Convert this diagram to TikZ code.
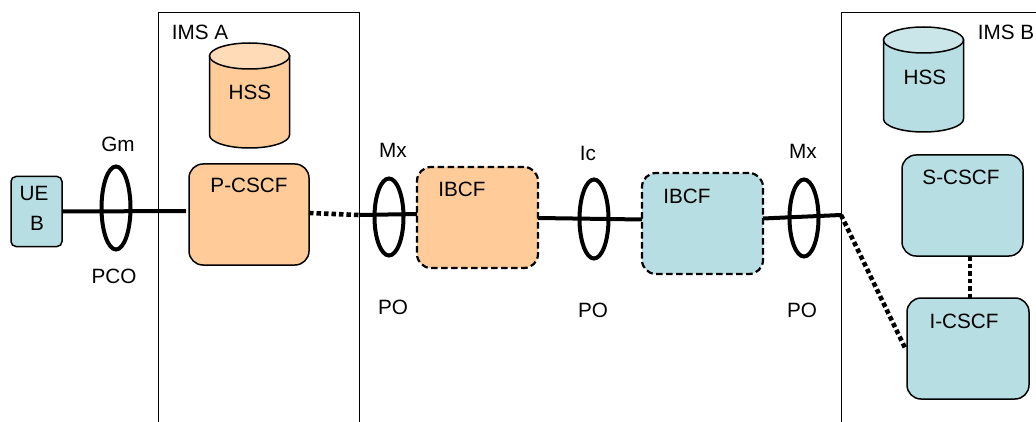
\documentclass[tikz,border=0pt]{standalone}
\usepackage{fontspec}
\setmainfont{Liberation Sans}
\usetikzlibrary{shapes.geometric}
\definecolor{org}{HTML}{FFCC99}
\definecolor{orgtop}{HTML}{FFDBB8}
\definecolor{blu}{HTML}{B7DFE3}
\definecolor{blutop}{HTML}{CBE6E9}
\tikzset{
  x=1pt,y=-1pt,
  box/.style={draw=black,line width=1.5pt,rounded corners=#1,inner sep=0pt},
  box/.default=14pt,
  dashbox/.style={draw=black,line width=2.2pt,rounded corners=14pt,inner sep=0pt,dash pattern=on 6.5pt off 3.5pt},
  txt/.style={inner sep=0pt,font=\fontsize{20.7}{24}\selectfont},
  ring/.style={draw=black,ellipse,line width=4pt,minimum width=#1,inner sep=0pt},
  ring/.default=29pt,
  hssbody/.style={draw=black,line width=1.5pt,fill=#1},
  hsstop/.style={draw=black,line width=1.5pt,fill=#1},
  solidlink/.style={line width=4pt,draw=black},
  dotlink/.style={line width=4.6pt,draw=black,dash pattern=on 4.5pt off 3pt},
  frame/.style={draw=black,line width=1pt},
}
\begin{document}
\begin{tikzpicture}
\useasboundingbox (0,0) rectangle (1036,422);
% domain frames
\coordinate (aBL) at (158.5,422); \coordinate (aTL) at (158.5,13); \coordinate (aTR) at (359,13); \coordinate (aBR) at (359,422);
\coordinate (bBL) at (841.5,422); \coordinate (bTL) at (841.5,13); \coordinate (bTR) at (1036,13);
\draw[frame] (aBL) -- (aTL) -- (aTR) -- (aBR);
\draw[frame] (bBL) -- (bTL) -- (bTR);
% boxes
\node[box=5pt,fill=blu,minimum width=51pt,minimum height=70pt] (ue) at (36.5,211.5) {};
\node[box,fill=org,minimum width=120pt,minimum height=101pt] (pc) at (249,214.5) {};
\node[dashbox,fill=org,minimum width=121pt,minimum height=101pt] (ib1) at (477.5,217.5) {};
\node[dashbox,fill=blu,minimum width=121pt,minimum height=101pt] (ib2) at (702.5,223.5) {};
\node[box,fill=blu,minimum width=121pt,minimum height=101pt] (sc) at (962.5,205.5) {};
\node[box,fill=blu,minimum width=122pt,minimum height=101pt] (ic) at (968,348.5) {};
% cylinders
\path[hssbody=org] (209.5,56) -- (209.5,135) arc[start angle=180,end angle=360,x radius=40,y radius=-13] -- (289.5,56) -- cycle;
\path[hsstop=orgtop] (249.5,56) ellipse[x radius=40,y radius=13];
\path[hssbody=blu] (883.5,40) -- (883.5,119) arc[start angle=180,end angle=360,x radius=40,y radius=-13] -- (963.5,40) -- cycle;
\path[hsstop=blutop] (923.5,40) ellipse[x radius=40,y radius=13];
% connector end points
\coordinate (pcW) at (186,211);
\coordinate (pcE) at (309,213);
\coordinate (aEdge) at (359,215);
\coordinate (ib1W) at (417,214);
\coordinate (ib1E) at (538,218);
\coordinate (ib2W) at (642,219.5);
\coordinate (ib2E) at (763,218.5);
\coordinate (bEdge) at (841,215);
\coordinate (icW) at (906,350);
\coordinate (scS) at (970,256);
\coordinate (icN) at (970,298);
% connectors
\draw[solidlink] (ue.east) -- (pcW);
\draw[dotlink] (pcE) -- (aEdge);
\draw[solidlink] (aEdge) -- (ib1W);
\draw[solidlink] (ib1E) -- (ib2W);
\draw[solidlink] (ib2E) -- (bEdge);
\draw[dotlink] (bEdge) -- (icW);
\draw[dotlink] (scS) -- (icN);
% interface rings
\node[ring,minimum height=83pt] (r1) at (116,208) {};
\node[ring,minimum height=77pt] (r2) at (389,217) {};
\node[ring,minimum height=79pt] (r3) at (594,219) {};
\node[ring,minimum height=77pt] (r4) at (804,218) {};
% labels
\node[txt] (tgm) at (118,144) {Gm};
\node[txt] (tpco) at (114,276) {PCO};
\node[txt] (tima) at (200,32) {IMS A};
\node[txt] (th1) at (250,92) {HSS};
\node[txt] (tpc) at (249,185) {P-CSCF};
\node[txt] (tmx1) at (393,150) {Mx};
\node[txt] (tpo1) at (393,307) {PO};
\node[txt] (tib1) at (462,189) {IBCF};
\node[txt] (tic) at (588,153) {Ic};
\node[txt] (tpo2) at (593,310) {PO};
\node[txt] (tib2) at (687,196) {IBCF};
\node[txt] (tmx2) at (803,151) {Mx};
\node[txt] (tpo3) at (802,310) {PO};
\node[txt] (timb) at (1006,32) {IMS B};
\node[txt] (th2) at (925,77) {HSS};
\node[txt] (tsc) at (961,177) {S-CSCF};
\node[txt] (tic2) at (964,321) {I-CSCF};
\node[txt] (tue) at (34,193) {UE};
\node[txt] (tb) at (37,223) {B};
\end{tikzpicture}
\end{document}
